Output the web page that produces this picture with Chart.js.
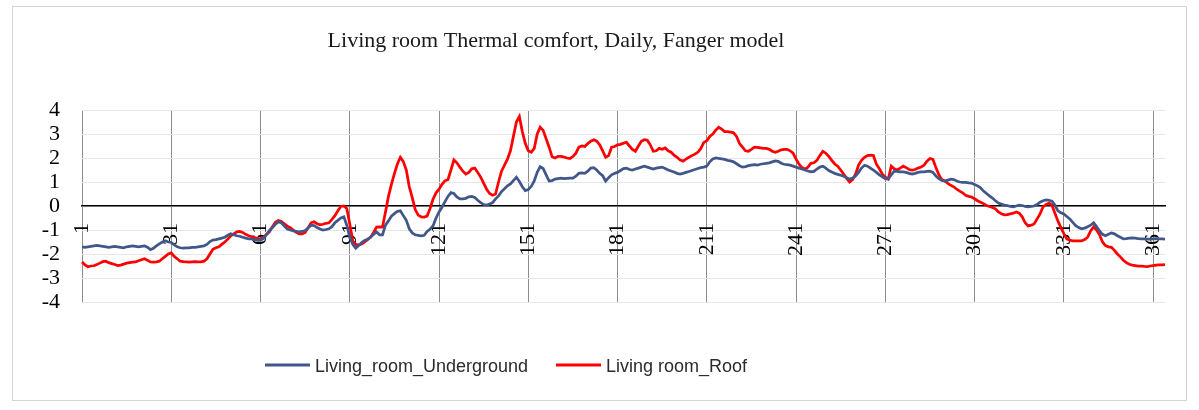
<!DOCTYPE html>
<html>
<head>
<meta charset="utf-8">
<script src="https://cdn.jsdelivr.net/npm/chart.js@4/dist/chart.umd.min.js"></script>
<style>
  html, body { margin: 0; padding: 0; background: #fff; }
  #frame { position: absolute; left: 12px; top: 6px; width: 1173px; height: 393px; border: 1px solid #d4d4d4; }
  #chart { position: absolute; left: 0; top: 0; }
</style>
</head>
<body>
<div id="frame"></div>
<canvas id="chart" width="1199" height="410"></canvas>
<script>
// Daily thermal comfort (PMV, Fanger) for the living room, day 1..365
const chartTitle = 'Living room Thermal comfort, Daily, Fanger model';
const days = Array.from({ length: 365 }, (_, i) => String(i + 1));
const tickLabels = ['1', '31', '61', '91', '121', '151', '181', '211', '241', '271', '301', '331', '361'];
const seriesNames = ['Living_room_Underground', 'Living room_Roof'];

const underground = [
  -1.70, -1.72, -1.70, -1.68, -1.66, -1.64, -1.66, -1.68, -1.70, -1.72,
  -1.70, -1.68, -1.70, -1.72, -1.74, -1.70, -1.68, -1.66, -1.68, -1.70,
  -1.68, -1.66, -1.72, -1.82, -1.76, -1.66, -1.58, -1.50, -1.45, -1.50,
  -1.52, -1.62, -1.70, -1.74, -1.75, -1.74, -1.74, -1.72, -1.72, -1.70,
  -1.68, -1.66, -1.60, -1.48, -1.42, -1.40, -1.37, -1.34, -1.30, -1.22,
  -1.16, -1.20, -1.24, -1.26, -1.30, -1.34, -1.37, -1.37, -1.40, -1.42,
  -1.42, -1.36, -1.20, -1.02, -0.90, -0.76, -0.66, -0.70, -0.84, -0.96,
  -1.00, -1.04, -1.06, -1.08, -1.06, -1.02, -0.92, -0.80, -0.82, -0.90,
  -0.96, -1.00, -0.98, -0.95, -0.86, -0.70, -0.60, -0.50, -0.45, -0.80,
  -1.30, -1.60, -1.76, -1.65, -1.52, -1.44, -1.38, -1.30, -1.18, -1.08,
  -1.20, -1.20, -0.80, -0.62, -0.42, -0.32, -0.22, -0.20, -0.40, -0.60,
  -0.95, -1.12, -1.20, -1.22, -1.24, -1.22, -1.06, -0.96, -0.82, -0.50,
  -0.25, -0.05, 0.18, 0.40, 0.56, 0.52, 0.38, 0.30, 0.30, 0.32,
  0.38, 0.40, 0.36, 0.24, 0.14, 0.06, 0.04, 0.08, 0.14, 0.30,
  0.42, 0.60, 0.72, 0.84, 0.92, 1.06, 1.20, 1.02, 0.80, 0.64,
  0.68, 0.82, 1.04, 1.40, 1.64, 1.56, 1.30, 1.04, 1.06, 1.12,
  1.14, 1.16, 1.14, 1.15, 1.16, 1.16, 1.24, 1.36, 1.38, 1.36,
  1.45, 1.58, 1.60, 1.50, 1.36, 1.26, 1.04, 1.18, 1.30, 1.36,
  1.40, 1.48, 1.56, 1.58, 1.52, 1.50, 1.54, 1.58, 1.62, 1.66,
  1.62, 1.58, 1.54, 1.58, 1.60, 1.62, 1.56, 1.50, 1.46, 1.42,
  1.36, 1.33, 1.36, 1.40, 1.44, 1.48, 1.52, 1.56, 1.60, 1.62,
  1.66, 1.84, 1.96, 2.00, 1.98, 1.96, 1.94, 1.90, 1.88, 1.84,
  1.76, 1.68, 1.62, 1.64, 1.68, 1.70, 1.72, 1.70, 1.74, 1.76,
  1.78, 1.80, 1.84, 1.88, 1.86, 1.78, 1.74, 1.72, 1.70, 1.66,
  1.62, 1.58, 1.54, 1.50, 1.46, 1.42, 1.44, 1.54, 1.62, 1.66,
  1.58, 1.48, 1.42, 1.36, 1.32, 1.28, 1.24, 1.18, 1.12, 1.16,
  1.25, 1.40, 1.58, 1.70, 1.66, 1.58, 1.50, 1.40, 1.30, 1.22,
  1.14, 1.12, 1.30, 1.45, 1.44, 1.42, 1.42, 1.40, 1.36, 1.33,
  1.36, 1.40, 1.42, 1.42, 1.44, 1.45, 1.40, 1.25, 1.14, 1.06,
  1.04, 1.08, 1.12, 1.10, 1.04, 1.00, 0.98, 0.98, 0.96, 0.95,
  0.90, 0.84, 0.76, 0.62, 0.52, 0.42, 0.33, 0.22, 0.12, 0.08,
  0.04, 0.02, -0.02, -0.04, 0.00, 0.04, 0.02, -0.02, -0.04, -0.02,
  0.00, 0.06, 0.16, 0.22, 0.25, 0.24, 0.20, 0.04, -0.20, -0.28,
  -0.33, -0.44, -0.54, -0.68, -0.82, -0.90, -0.95, -0.92, -0.86, -0.80,
  -0.70, -0.86, -1.04, -1.18, -1.24, -1.18, -1.12, -1.16, -1.24, -1.30,
  -1.37, -1.36, -1.34, -1.33, -1.34, -1.36, -1.37, -1.37, -1.38, -1.38,
  -1.37, -1.36, -1.37, -1.37, -1.38
];

const roof = [
  -2.33, -2.45, -2.53, -2.50, -2.49, -2.44, -2.38, -2.32, -2.30, -2.36,
  -2.40, -2.44, -2.48, -2.46, -2.42, -2.38, -2.36, -2.34, -2.33, -2.28,
  -2.24, -2.20, -2.26, -2.33, -2.34, -2.33, -2.30, -2.20, -2.10, -2.00,
  -1.95, -2.10, -2.20, -2.30, -2.32, -2.33, -2.34, -2.33, -2.32, -2.33,
  -2.33, -2.30, -2.20, -2.00, -1.80, -1.74, -1.70, -1.60, -1.50, -1.38,
  -1.24, -1.16, -1.08, -1.06, -1.10, -1.18, -1.24, -1.28, -1.32, -1.36,
  -1.37, -1.30, -1.18, -1.08, -0.86, -0.68, -0.60, -0.64, -0.74, -0.84,
  -0.90, -1.00, -1.10, -1.16, -1.16, -1.10, -0.90, -0.70, -0.66, -0.74,
  -0.78, -0.76, -0.72, -0.70, -0.56, -0.40, -0.20, -0.02, 0.00, -0.10,
  -0.75, -1.45, -1.60, -1.62, -1.58, -1.50, -1.40, -1.30, -1.10, -0.88,
  -0.87, -0.88, -0.25, 0.40, 0.90, 1.35, 1.75, 2.03, 1.85, 1.50,
  0.80, 0.35, -0.15, -0.38, -0.45, -0.46, -0.42, -0.10, 0.29, 0.55,
  0.70, 0.90, 1.05, 1.10, 1.50, 1.92, 1.80, 1.62, 1.45, 1.33,
  1.40, 1.55, 1.58, 1.40, 1.20, 0.95, 0.70, 0.52, 0.45, 0.50,
  1.00, 1.45, 1.70, 1.95, 2.30, 2.90, 3.50, 3.73, 3.10, 2.60,
  2.30, 2.24, 2.40, 3.00, 3.28, 3.15, 2.80, 2.45, 2.05, 2.00,
  2.07, 2.07, 2.04, 2.00, 1.98, 2.06, 2.20, 2.45, 2.50, 2.48,
  2.60, 2.70, 2.76, 2.70, 2.55, 2.30, 2.03, 2.10, 2.45, 2.48,
  2.55, 2.57, 2.62, 2.65, 2.50, 2.36, 2.28, 2.50, 2.70, 2.76,
  2.74, 2.55, 2.28, 2.30, 2.40, 2.36, 2.42, 2.30, 2.24, 2.12,
  2.03, 1.92, 1.87, 1.95, 2.03, 2.10, 2.16, 2.24, 2.40, 2.65,
  2.72, 2.90, 3.00, 3.16, 3.28, 3.20, 3.10, 3.10, 3.08, 3.05,
  2.90, 2.60, 2.45, 2.30, 2.28, 2.36, 2.45, 2.44, 2.42, 2.40,
  2.40, 2.36, 2.28, 2.24, 2.28, 2.34, 2.36, 2.36, 2.30, 2.20,
  1.95, 1.74, 1.60, 1.54, 1.62, 1.78, 1.80, 1.90, 2.10, 2.28,
  2.20, 2.07, 1.90, 1.75, 1.66, 1.50, 1.33, 1.15, 1.00, 1.10,
  1.33, 1.70, 1.90, 2.03, 2.10, 2.12, 2.10, 1.74, 1.55, 1.33,
  1.20, 1.12, 1.66, 1.55, 1.50, 1.58, 1.66, 1.60, 1.52, 1.50,
  1.52, 1.58, 1.62, 1.70, 1.87, 1.98, 1.94, 1.60, 1.30, 1.10,
  1.04, 0.94, 0.86, 0.80, 0.70, 0.62, 0.55, 0.45, 0.40, 0.37,
  0.30, 0.22, 0.16, 0.10, 0.02, -0.02, -0.06, -0.12, -0.25, -0.32,
  -0.37, -0.36, -0.33, -0.30, -0.25, -0.30, -0.45, -0.70, -0.83, -0.80,
  -0.75, -0.54, -0.33, -0.04, 0.06, 0.12, 0.04, -0.30, -0.62, -0.90,
  -1.15, -1.37, -1.42, -1.45, -1.45, -1.45, -1.45, -1.40, -1.30, -1.04,
  -0.87, -1.00, -1.20, -1.50, -1.65, -1.70, -1.72, -1.85, -2.00, -2.12,
  -2.26, -2.36, -2.43, -2.46, -2.48, -2.50, -2.50, -2.52, -2.53, -2.50,
  -2.48, -2.46, -2.45, -2.45, -2.44
];

const seriesColors = ['#41578a', '#ff0000'];
const serif = { family: "'Liberation Serif', 'Times New Roman', serif", size: 22 };

// title and legend drawn at the same spots as the Excel original
const overlay = {
  id: 'overlay',
  afterDraw(chart) {
    const c = chart.ctx;
    c.save();
    c.fillStyle = '#1a1a1a';
    c.font = "22px 'Liberation Serif', serif";
    c.textAlign = 'center';
    c.textBaseline = 'alphabetic';
    c.fillText(chartTitle, 556, 47);

    const starts = [265, 556];
    c.font = "18px 'Liberation Sans', Arial, sans-serif";
    c.textAlign = 'left';
    chart.data.datasets.forEach((ds, i) => {
      const x = starts[i];
      c.strokeStyle = ds.borderColor;
      c.lineWidth = 3;
      c.beginPath();
      c.moveTo(x, 365);
      c.lineTo(x + 45, 365);
      c.stroke();
      c.fillStyle = '#2b2b2b';
      c.fillText(ds.label, x + 50, 372);
    });
    c.restore();
  }
};

new Chart(document.getElementById('chart'), {
  type: 'line',
  data: {
    labels: days,
    datasets: [
      { label: seriesNames[0], data: underground, borderColor: seriesColors[0], borderWidth: 2.75, pointRadius: 0, tension: 0 },
      { label: seriesNames[1], data: roof, borderColor: seriesColors[1], borderWidth: 2.75, pointRadius: 0, tension: 0 }
    ]
  },
  options: {
    responsive: false,
    animation: false,
    layout: { padding: { left: 0, right: 34, top: 110, bottom: 108 } },
    plugins: {
      legend: { display: false },
      title: { display: false },
      tooltip: { enabled: false }
    },
    scales: {
      x: {
        position: { y: 0 },
        grid: { color: '#8c8c8c', lineWidth: 1, drawTicks: false },
        border: { color: '#000', width: 1.5 },
        ticks: {
          autoSkip: false,
          minRotation: 90,
          maxRotation: 90,
          padding: 17,
          color: '#000',
          font: serif,
          callback: (v, i) => (tickLabels.includes(days[i]) ? days[i] : null)
        }
      },
      y: {
        min: -4,
        max: 4,
        afterFit: (s) => { s.width = 82; },
        grid: { color: '#e6e6e6', drawTicks: false },
        border: { display: false },
        ticks: { stepSize: 1, autoSkip: false, padding: 22, color: '#000', font: serif }
      }
    }
  },
  plugins: [overlay]
});
</script>
</body>
</html>
